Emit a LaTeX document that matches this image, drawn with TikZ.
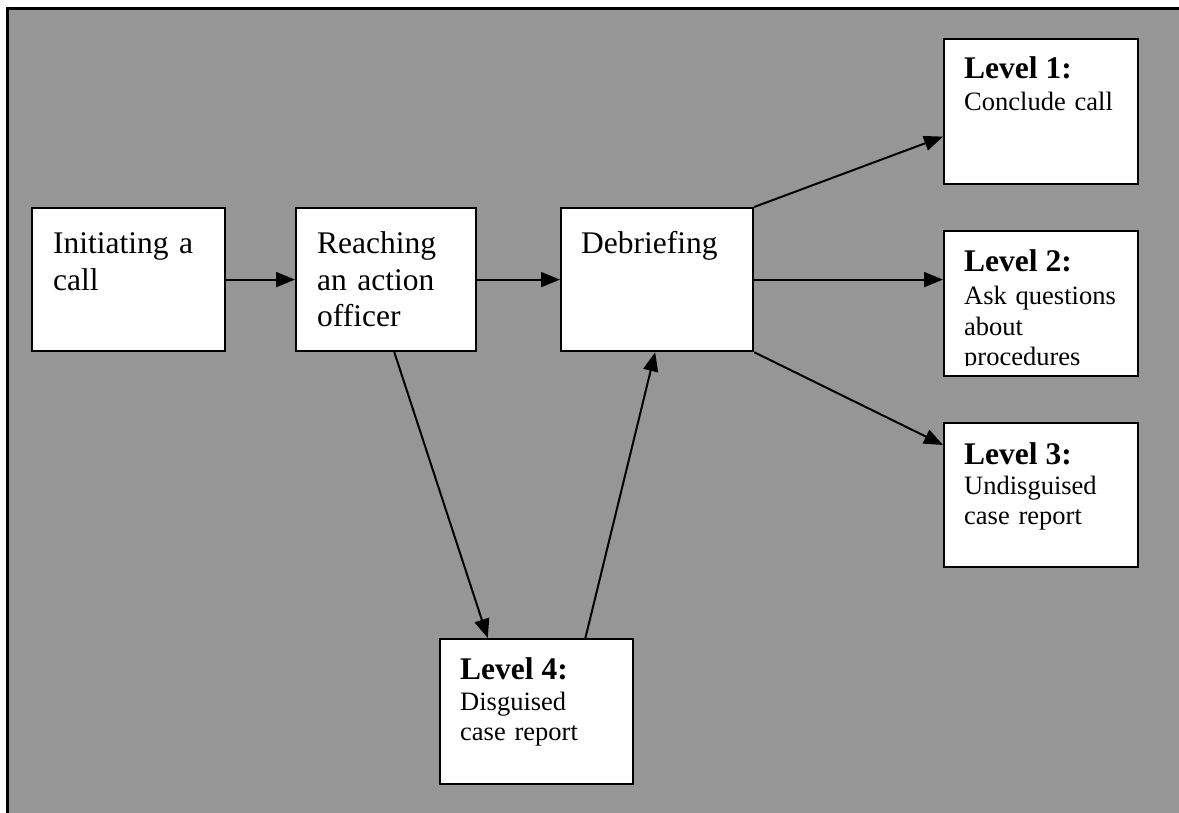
\documentclass[tikz,border=0pt]{standalone}
\usepackage{fontspec}
\setmainfont{Liberation Serif}
\usetikzlibrary{arrows.meta,calc}
\definecolor{bggray}{RGB}{150,150,150}
\begin{document}
\begin{tikzpicture}[x=1pt,y=-1pt,
  box/.style={draw=black, line width=2.2pt, fill=white, rectangle, inner sep=0pt, anchor=north west},
  maintxt/.style={anchor=base west, inner sep=0pt, align=left, text width=190pt,
    font=\fontsize{31.5}{36.2}\selectfont},
  lvltitle/.style={anchor=base west, inner sep=0pt, font=\fontsize{31.5}{36.2}\selectfont\bfseries},
  lvltxt/.style={anchor=base west, inner sep=0pt, align=left, text width=190pt,
    font=\fontsize{26.5}{30.5}\selectfont},
  conn/.style={draw=black, line width=2pt, -{Triangle[length=19pt,width=15pt]}}
]
\useasboundingbox (0,0) rectangle (1179,813);
\fill[white] (0,0) rectangle (1179,813);
\fill[bggray] (7.5,8.5) rectangle (1179,813);
\draw[line width=2.5pt] (7.5,813) -- (7.5,8.5) -- (1179,8.5);

% boxes
\node[box, minimum width=193pt, minimum height=143pt] (init) at (31,207) {};
\node[box, minimum width=180pt, minimum height=143pt] (reach) at (295,207) {};
\node[box, minimum width=192pt, minimum height=143pt] (debr) at (560,207) {};
\node[box, minimum width=194pt, minimum height=145pt] (l1) at (943,38) {};
\node[box, minimum width=194pt, minimum height=145pt] (l2) at (943,230) {};
\node[box, minimum width=194pt, minimum height=144pt] (l3) at (943,422) {};
\node[box, minimum width=193pt, minimum height=145pt] (l4) at (439,638) {};

% texts
\node[maintxt] (tinit) at ($(init.north west)+(22,47)$) {Initiating a\\call};
\node[maintxt] (treach) at ($(reach.north west)+(22,47)$) {Reaching\\an action\\officer};
\node[maintxt] (tdebr) at ($(debr.north west)+(21,47)$) {Debriefing};

\node[lvltitle] (tl1) at ($(l1.north west)+(21,41)$) {Level 1:};
\node[lvltxt] (sl1) at ($(l1.north west)+(21,73)$) {Conclude call};

\node[lvltitle] (tl2) at ($(l2.north west)+(21,42)$) {Level 2:};
\begin{scope}
  \clip (l2.north west) rectangle ([yshift=12pt]l2.south east);
  \node[lvltxt] (sl2) at ($(l2.north west)+(21,75)$) {Ask questions\\about\\procedures};
\end{scope}

\node[lvltitle] (tl3) at ($(l3.north west)+(21,42)$) {Level 3:};
\node[lvltxt] (sl3) at ($(l3.north west)+(21,72)$) {Undisguised\\case report};

\node[lvltitle] (tl4) at ($(l4.north west)+(21,41)$) {Level 4:};
\node[lvltxt] (sl4) at ($(l4.north west)+(21,72)$) {Disguised\\case report};

% connectors
\draw[conn] (init.east) -- (reach.west);
\draw[conn] (reach.east) -- (debr.west);
\draw[conn] (debr.north east) -- ($(l1.north west)!0.67!(l1.south west)$);
\draw[conn] (debr.east) -- (debr.east -| l2.west);
\draw[conn] (debr.south east) -- ([yshift=-23pt]l3.north west);
\draw[conn] ($(reach.south west)!0.545!(reach.south east)$) -- ($(l4.north west)!0.25!(l4.north east)$);
\draw[conn] ($(l4.north west)!0.75!(l4.north east)$) -- ($(debr.south west)!0.49!(debr.south east)$);
\end{tikzpicture}
\end{document}
